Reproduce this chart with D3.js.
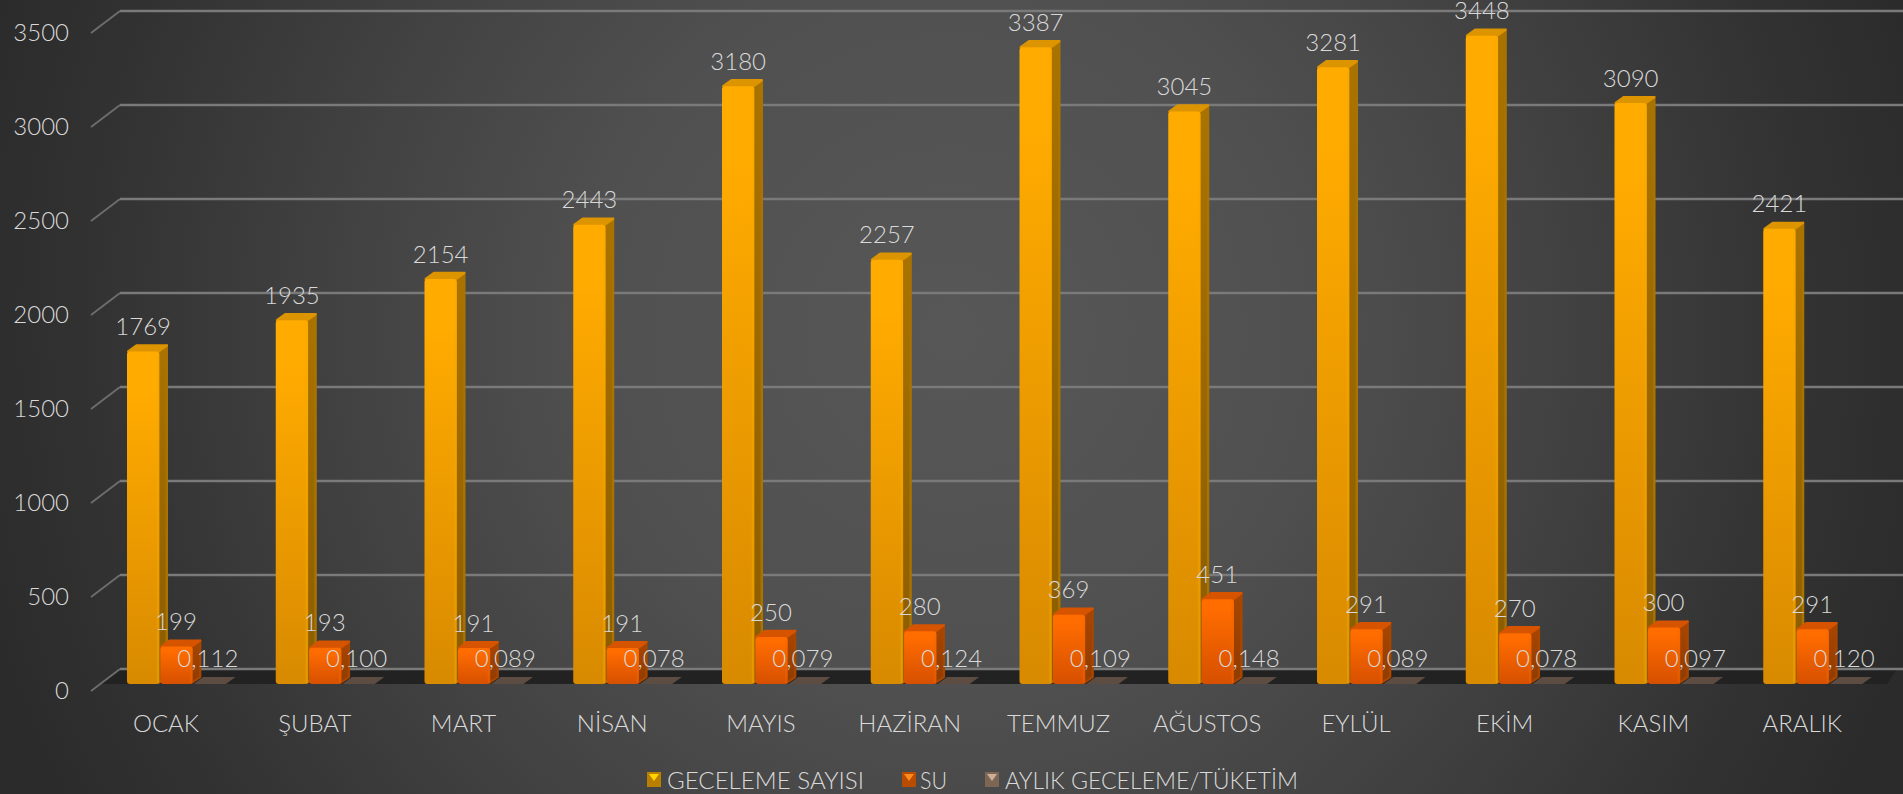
<!DOCTYPE html>
<html lang="tr">
<head>
<meta charset="utf-8">
<title>Geceleme ve Su</title>
<script src="https://cdn.jsdelivr.net/npm/d3@7/dist/d3.min.js"></script>
<style>
html,body{margin:0;padding:0;background:#2b2b2b;overflow:hidden}
svg{display:block}
text{font-family:Lato,"Open Sans",sans-serif;font-weight:300;fill:#d9d9d9;font-size:24px}
</style>
</head>
<body>
<div id="chart"></div>
<script>
const months = ["OCAK","ŞUBAT","MART","NİSAN","MAYIS","HAZİRAN","TEMMUZ","AĞUSTOS","EYLÜL","EKİM","KASIM","ARALIK"];
const seriesNames = ["GECELEME SAYISI","SU","AYLIK GECELEME/TÜKETİM"];
const geceleme = [1769,1935,2154,2443,3180,2257,3387,3045,3281,3448,3090,2421];
const su = [199,193,191,191,250,280,369,451,291,270,300,291];
const aylik = [0.112,0.100,0.089,0.078,0.079,0.124,0.109,0.148,0.089,0.078,0.097,0.120];
const yTicks = [0,500,1000,1500,2000,2500,3000,3500];

const W=1903,H=794;
const svg=d3.select("#chart").append("svg").attr("width",W).attr("height",H).attr("viewBox",`0 0 ${W} ${H}`);
const defs=svg.append("defs");

const bg=defs.append("radialGradient").attr("id","bg").attr("gradientUnits","userSpaceOnUse")
  .attr("cx",950).attr("cy",330).attr("r",1010);
[[0,"#575757"],[0.35,"#505050"],[0.6,"#424242"],[0.85,"#323232"],[1,"#2b2b2b"]].forEach(s=>bg.append("stop").attr("offset",s[0]).attr("stop-color",s[1]));

const styles=[
 {front:["#ffab00","#d88a00"],side:["#aa7300","#8a5c00"],top:"#dc9400",edge:"#f5a800",sw:["#b87f00","#ffd400"]},
 {front:["#ff6c00","#d65000"],side:["#a84600","#8f3c00"],top:"#d65400",edge:"#f56600",sw:["#b84c00","#ff8a20"]},
 {front:["#6a5749","#5a4a40"],side:["#4f4037","#4f4037"],top:"#5d4c42",edge:"#5d4c42",sw:["#7d6654","#cdb09a"]}
];
styles.forEach((st,i)=>{
  const f=defs.append("linearGradient").attr("id","f"+i).attr("x1",0).attr("x2",0).attr("y1",0).attr("y2",1);
  f.append("stop").attr("offset",0.12).attr("stop-color",st.front[0]);
  f.append("stop").attr("offset",1).attr("stop-color",st.front[1]);
  const s=defs.append("linearGradient").attr("id","s"+i).attr("x1",0).attr("x2",0).attr("y1",0).attr("y2",1);
  s.append("stop").attr("offset",0).attr("stop-color",st.side[0]);
  s.append("stop").attr("offset",1).attr("stop-color",st.side[1]);
});

svg.append("rect").attr("width",W).attr("height",H).attr("fill","url(#bg)");

// scales
const y=d3.scaleLinear().domain([0,3500]).range([684,26]);
const x0=d3.scaleBand().domain(months).range([91.6,1876.6]);
const x1=d3.scaleBand().domain(seriesNames).range([35.4,134.4]).paddingInner(0.03);
const depthX=8.5, depthY=7, wallX=29, wallY=22, floorShift=15;

// floor
const floorLine=d3.line();
svg.append("path").attr("fill","#222222")
  .attr("d",floorLine([[wallX+91,y(0)-floorShift],[1897,y(0)-floorShift],[1887,y(0)],[100,y(0)]])+"Z");

// walls + gridlines
const grid=svg.append("g").attr("fill","none");
yTicks.forEach(t=>{
  const yy=y(t)-floorShift;
  grid.append("path").attr("stroke","#6e6e6e").attr("stroke-width",1.8)
    .attr("d",floorLine([[91,yy+wallY],[120,yy]]));
  grid.append("path").attr("stroke","#7a7a7a").attr("stroke-width",2.3)
    .attr("d",floorLine([[120,yy],[W,yy]]));
});

// bars
const all=[geceleme,su,aylik];
const bars=svg.append("g");
const round=g=>g.attr("stroke-linejoin","round").attr("stroke-width",2.4);
all.forEach((vals,i)=>{
  const st=styles[i], name=seriesNames[i];
  const g=bars.selectAll(null).data(vals.map((v,k)=>({v,m:months[k]}))).enter().append("g")
    .attr("transform",d=>`translate(${x0(d.m)+x1(name)},0)`);
  const bw=x1.bandwidth();
  if(i<2){
    // side
    g.append("path").attr("fill",`url(#s${i})`).attr("stroke",st.side[0]).call(round)
      .attr("d",d=>floorLine([[bw-1,y(d.v)],[bw+depthX-1,y(d.v)-depthY+1],[bw+depthX-1,y(0)-depthY],[bw-1,y(0)-1.2]])+"Z");
    // top
    g.append("path").attr("fill",st.top).attr("stroke",st.top).call(round)
      .attr("d",d=>floorLine([[1.2,y(d.v)],[depthX+1,y(d.v)-depthY+1],[bw+depthX-1,y(d.v)-depthY+1],[bw-1,y(d.v)]])+"Z");
    // front
    g.append("rect").attr("x",0).attr("width",bw).attr("y",d=>y(d.v)).attr("height",d=>y(0)-y(d.v))
      .attr("rx",3).attr("fill",`url(#f${i})`);
    // bevel highlight on the right edge of the front face
    g.append("rect").attr("x",bw-2.5).attr("width",2).attr("y",d=>y(d.v)+3).attr("height",d=>y(0)-y(d.v)-4)
      .attr("fill",st.edge).attr("opacity",0.45);
  } else {
    // almost flat bar: only the top face shows
    g.append("path").attr("fill",st.top)
      .attr("d",d=>floorLine([[0,y(d.v)],[depthX+1,y(d.v)-depthY],[bw+depthX+1,y(d.v)-depthY],[bw,y(d.v)]])+"Z");
  }
});

// data labels
const comma=d3.formatLocale({decimal:",",thousands:"",grouping:[3],currency:["",""]}).format(".3f");
const labelShift=[0,-0.5,-2];
const labels=svg.append("g").attr("text-anchor","middle");
all.forEach((vals,i)=>{
  const name=seriesNames[i];
  labels.selectAll(null).data(vals.map((v,k)=>({v,m:months[k]}))).enter().append("text")
    .attr("x",d=>x0(d.m)+x1(name)+x1.bandwidth()/2+labelShift[i])
    .attr("y",d=>y(d.v)-26)
    .attr("dominant-baseline","central")
    .text(d=>i===2?comma(d.v):d3.format("d")(d.v));
});

// y axis
const yAxis=svg.append("g").attr("transform","translate(69,7)")
  .call(d3.axisLeft(y).tickValues(yTicks).tickSize(0).tickPadding(0).tickFormat(d3.format("d")));
yAxis.select(".domain").remove();
yAxis.selectAll("text").attr("fill",null);
yAxis.attr("font-size",null).attr("font-family",null);

// x axis
const xAxis=svg.append("g").attr("transform","translate(0,722)")
  .call(d3.axisBottom(x0).tickSize(0).tickPadding(0));
xAxis.select(".domain").remove();
xAxis.selectAll("text").attr("dy",null).attr("y",0).attr("dominant-baseline","central").attr("fill",null);
xAxis.attr("font-size",null).attr("font-family",null);

// legend
const legendX=[647,902,985];
const legendTextX=[20,18,20];
const legendTextW=[197,27,293];
const leg=svg.append("g").selectAll("g").data(seriesNames).enter().append("g")
  .attr("transform",(d,i)=>`translate(${legendX[i]},772)`);
leg.append("rect").attr("width",14).attr("height",15).attr("fill",(d,i)=>styles[i].sw[0]);
leg.append("path").attr("d",d3.line()([[2,2],[12,2],[7,9]])+"Z").attr("fill",(d,i)=>styles[i].sw[1]);
leg.append("text").attr("x",(d,i)=>legendTextX[i]).attr("y",7.5).attr("dominant-baseline","central")
  .attr("textLength",(d,i)=>legendTextW[i]).attr("lengthAdjust","spacingAndGlyphs").text(d=>d);
</script>
</body>
</html>
